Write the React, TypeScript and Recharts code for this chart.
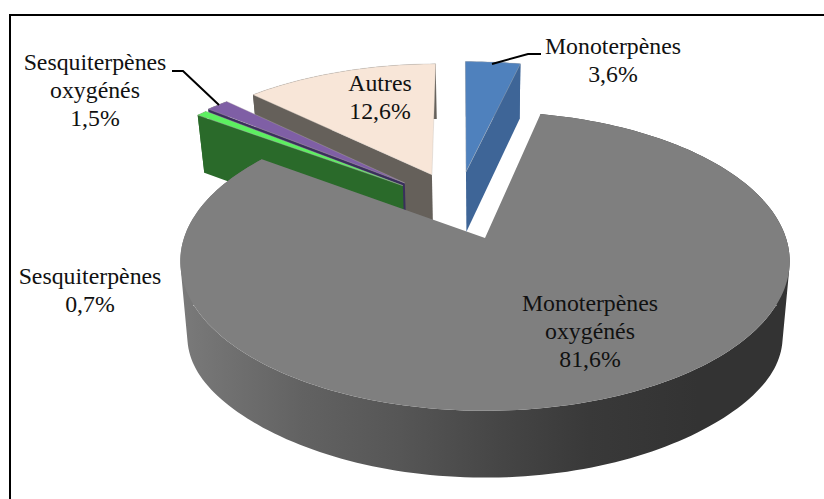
import { PieChart, Pie } from "recharts";

// drawn back to front, so the list runs counter-clockwise from the top
const names = ["Autres", "Sesquiterpènes oxygénés", "Sesquiterpènes", "Monoterpènes oxygénés", "Monoterpènes"];
const values = [12.6, 1.5, 0.7, 81.6, 3.6];
const labelLines = [
  ["Autres", "12,6%"],
  ["Sesquiterpènes", "oxygénés", "1,5%"],
  ["Sesquiterpènes", "0,7%"],
  ["Monoterpènes", "oxygénés", "81,6%"],
  ["Monoterpènes", "3,6%"],
];

const data = names.map((name, i) => ({ name, value: values[i] }));

// slice looks: explosion in the pie's plane, top face, visible cut face, wall
const looks = [
  { ou: -0.189, ov: 0.4635, top: "#f8e6d8", cut: "#65605a", side: "start", wall: "#65605a", bulge: 0 },
  { ou: -0.283, ov: 0.4, top: "#7f5fa5", cut: "#3a2f5c", side: "start", wall: "#3a2f5c", bulge: 0 },
  { ou: -0.289, ov: 0.38, top: "#5cf060", cut: "#2a6a2a", side: "start", wall: "#2a6a2a", bulge: 0 },
  { ou: 0, ov: 0, top: "#7f7f7f", cut: "", side: "", wall: "url(#mainWall)", bulge: 13 },
  { ou: -0.068, ov: 0.487, top: "#4f81bd", cut: "#3e6597", side: "end", wall: "#3e6597", bulge: 0 },
];

// label anchors: centre x, first baseline
const labelPos = [
  { x: 380, y: 91 },
  { x: 95, y: 70 },
  { x: 90, y: 284 },
  { x: 590, y: 311 },
  { x: 613, y: 54 },
];
const leaders: Record<number, string> = {
  1: "172,71 183,71 219,105",
  4: "492,64 528,54 541,54",
};

const TILT = 0.485;
const PERSPECTIVE = 0.155;

function project(cx: number, cy: number, r: number, U: number, V: number, extra = 0) {
  const w = 1 + PERSPECTIVE * V;
  const x = cx + (r * U) / w;
  const y = cy - (r * TILT * V) / w;
  const depth = 92.6 - 30.5 * w + extra;
  return { x, y, bx: cx + (x - cx) * 0.977, by: y + depth };
}

// the wall as one path of same-facing quads, so the strip has no holes at the extremes
function wallPath(rim: { x: number; y: number; bx: number; by: number }[]) {
  let d = "";
  for (let i = 0; i < rim.length - 1; i++) {
    const a = rim[i];
    const b = rim[i + 1];
    const quad = [
      [a.x, a.y],
      [b.x, b.y],
      [b.bx, b.by],
      [a.bx, a.by],
    ];
    let area = 0;
    quad.forEach((p, j) => {
      const q = quad[(j + 1) % 4];
      area += p[0] * q[1] - q[0] * p[1];
    });
    if (area < 0) quad.reverse();
    d += "M" + quad.map((p) => p.join(",")).join("L") + "Z";
  }
  return d;
}

function PieSlice3D(props: any) {
  const { cx, cy, outerRadius: r, startAngle, endAngle, index } = props;
  const look = looks[index];
  const t0 = ((90 - Math.max(startAngle, endAngle)) * Math.PI) / 180;
  const t1 = ((90 - Math.min(startAngle, endAngle)) * Math.PI) / 180;
  const steps = Math.max(2, Math.ceil((t1 - t0) * 40));
  const rim = [];
  for (let i = 0; i <= steps; i++) {
    const t = t0 + ((t1 - t0) * i) / steps;
    const u = Math.sin(t);
    rim.push(project(cx, cy, r, look.ou + u, look.ov + Math.cos(t), look.bulge * Math.pow(u, 6)));
  }
  const apex = project(cx, cy, r, look.ou, look.ov);
  const topPts = [apex, ...rim].map((p) => `${p.x},${p.y}`).join(" ");
  const edge = look.side === "start" ? rim[0] : rim[rim.length - 1];
  const cutPts = `${apex.x},${apex.y} ${edge.x},${edge.y} ${edge.bx},${edge.by} ${apex.bx},${apex.by}`;
  return (
    <g>
      <path d={wallPath(rim)} fill={look.wall} fillRule="nonzero" />
      {look.cut && <polygon points={cutPts} fill={look.cut} />}
      <polygon points={topPts} fill={look.top} stroke="#bdb8b2" strokeOpacity={look.cut ? 0.5 : 0} strokeWidth={0.7} />
    </g>
  );
}

function renderLabel(props: any) {
  const { index } = props;
  const pos = labelPos[index];
  return (
    <g>
      {leaders[index] && <polyline points={leaders[index]} fill="none" stroke="#000" strokeWidth={2} />}
      <text x={pos.x} y={pos.y} textAnchor="middle" fontFamily="Liberation Serif" fontSize={23.8} fill="#111">
        {labelLines[index].map((line, i) => (
          <tspan key={line} x={pos.x} dy={i === 0 ? 0 : 28}>
            {line}
          </tspan>
        ))}
      </text>
    </g>
  );
}

export default function App() {
  return (
    <div style={{ position: "absolute", left: 0, top: 0, width: 824, height: 499, background: "#fff", overflow: "hidden" }}>
      <div
        style={{
          position: "absolute",
          left: 9,
          top: 14,
          width: 815,
          height: 485,
          borderTop: "2px solid #000",
          borderLeft: "2px solid #000",
          boxSizing: "border-box",
        }}
      />
      <PieChart width={824} height={499} margin={{ top: 0, right: 0, bottom: 0, left: 0 }}>
        <defs>
          <linearGradient id="mainWall" gradientUnits="userSpaceOnUse" x1={180} y1={0} x2={790} y2={0}>
            <stop offset="0" stopColor="#7a7a7a" />
            <stop offset="0.2" stopColor="#626262" />
            <stop offset="0.36" stopColor="#565656" />
            <stop offset="0.52" stopColor="#464646" />
            <stop offset="0.67" stopColor="#393939" />
            <stop offset="0.85" stopColor="#333333" />
            <stop offset="1" stopColor="#333333" />
          </linearGradient>
        </defs>
        <Pie
          data={data}
          dataKey="value"
          nameKey="name"
          cx={485}
          cy={238}
          innerRadius={0}
          outerRadius={301}
          startAngle={90.7}
          endAngle={450.7}
          stroke="none"
          shape={PieSlice3D}
          label={renderLabel}
          labelLine={false}
          isAnimationActive={false}
        />
      </PieChart>
    </div>
  );
}
